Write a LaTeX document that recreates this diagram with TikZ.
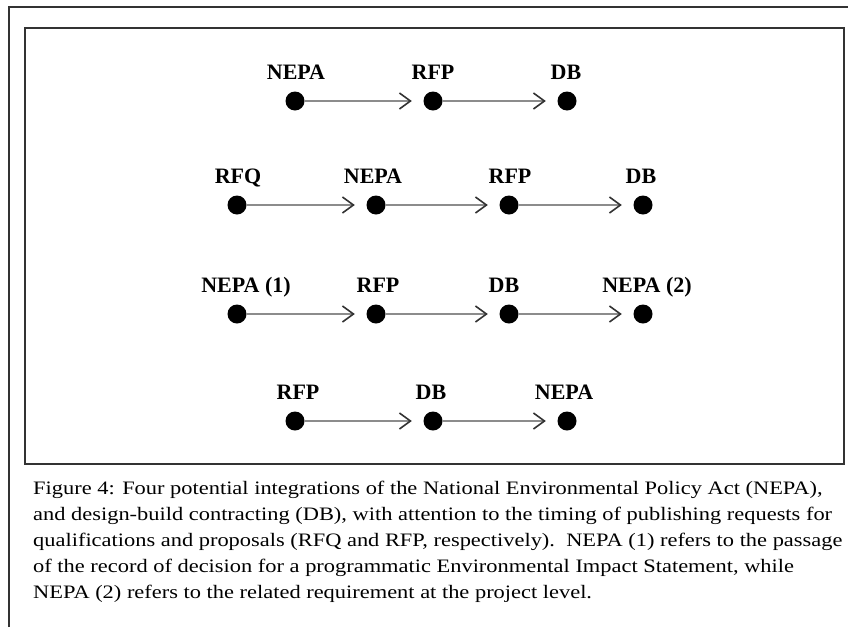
\documentclass[tikz,border=0pt]{standalone}
\usepackage{fontspec}
\setmainfont{Liberation Serif}
\newfontfamily\capfont[FakeStretch=1.18]{Liberation Serif}
\usetikzlibrary{arrows.meta}
\tikzset{
  x=1pt, y=-1pt,
  frameline/.style={draw=black!80, line width=2pt},
  dot/.style={circle, fill=black, inner sep=0pt, minimum size=19pt},
  conn/.style={draw=black!45, line width=2.6pt, shorten >=11.5pt,
    -{Straight Barb[length=11pt, width=16pt, line width=1.6pt, color=black!80]}},
  lbl/.style={anchor=base, inner sep=0pt, font=\fontsize{22}{25}\selectfont\bfseries},
  capline/.style={anchor=base west, inner sep=0pt, font=\capfont\fontsize{19}{22}\selectfont}
}
\begin{document}
\begin{tikzpicture}
\useasboundingbox (0,0) rectangle (848,627);
\fill[white] (0,0) rectangle (848,627);
% outer frame (partly visible) and inner box
\draw[frameline] (9,627) -- (9,7) -- (848,7);
\draw[frameline] (25,28) rectangle (844,464);

% row 1
\node[dot] (a1) at (295,101) {};
\node[dot] (a2) at (433,101) {};
\node[dot] (a3) at (567,101) {};
\node[lbl] (la1) at (296,79) {NEPA};
\node[lbl] (la2) at (433,79) {RFP};
\node[lbl] (la3) at (566,79) {DB};
\draw[conn] (a1) -- (a2);
\draw[conn] (a2) -- (a3);

% row 2
\node[dot] (b1) at (237,205) {};
\node[dot] (b2) at (376,205) {};
\node[dot] (b3) at (509,205) {};
\node[dot] (b4) at (643,205) {};
\node[lbl] (lb1) at (238,183) {RFQ};
\node[lbl] (lb2) at (373,183) {NEPA};
\node[lbl] (lb3) at (510,183) {RFP};
\node[lbl] (lb4) at (641,183) {DB};
\draw[conn] (b1) -- (b2);
\draw[conn] (b2) -- (b3);
\draw[conn] (b3) -- (b4);

% row 3
\node[dot] (c1) at (237,314) {};
\node[dot] (c2) at (376,314) {};
\node[dot] (c3) at (509,314) {};
\node[dot] (c4) at (643,314) {};
\node[lbl] (lc1) at (246,292) {NEPA (1)};
\node[lbl] (lc2) at (378,292) {RFP};
\node[lbl] (lc3) at (504,292) {DB};
\node[lbl] (lc4) at (647,292) {NEPA (2)};
\draw[conn] (c1) -- (c2);
\draw[conn] (c2) -- (c3);
\draw[conn] (c3) -- (c4);

% row 4
\node[dot] (d1) at (295,421) {};
\node[dot] (d2) at (433,421) {};
\node[dot] (d3) at (567,421) {};
\node[lbl] (ld1) at (298,399) {RFP};
\node[lbl] (ld2) at (431,399) {DB};
\node[lbl] (ld3) at (564,399) {NEPA};
\draw[conn] (d1) -- (d2);
\draw[conn] (d2) -- (d3);

% caption
\node[capline] (cap1) at (33,494) {Figure 4: Four potential integrations of the National Environmental Policy Act (NEPA),};
\node[capline] (cap2) at (33,520) {and design-build contracting (DB), with attention to the timing of publishing requests for};
\node[capline] (cap3) at (33,546) {qualifications and proposals (RFQ and RFP, respectively).\ \ NEPA (1) refers to the passage};
\node[capline] (cap4) at (33,572) {of the record of decision for a programmatic Environmental Impact Statement, while};
\node[capline] (cap5) at (33,598) {NEPA (2) refers to the related requirement at the project level.};
\end{tikzpicture}
\end{document}
